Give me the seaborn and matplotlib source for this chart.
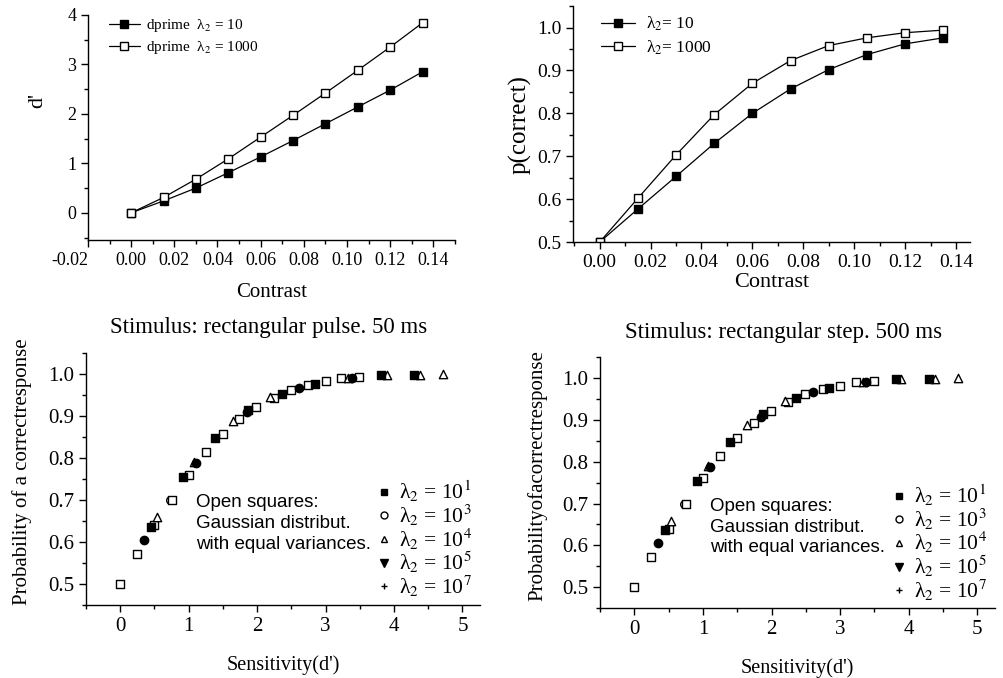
import numpy as np
import pandas as pd
import seaborn as sns
import matplotlib.pyplot as plt
from matplotlib.lines import Line2D
from matplotlib.ticker import MultipleLocator, FormatStrFormatter

sns.set_theme(style="ticks", rc={"axes.edgecolor": "black", "xtick.color": "black",
                                 "ytick.color": "black", "text.color": "black",
                                 "axes.labelcolor": "black"})
plt.rcParams["font.family"] = ["Liberation Serif", "DejaVu Serif"]
plt.rcParams["mathtext.fontset"] = "stix"
plt.rcParams["axes.unicode_minus"] = False

# top panels: contrast sweep
contrast = [0.0, 0.015, 0.03, 0.045, 0.06, 0.075, 0.09, 0.105, 0.12, 0.135]
dprime_10 = [0.0, 0.24, 0.50, 0.81, 1.13, 1.46, 1.80, 2.14, 2.48, 2.85]
dprime_1000 = [0.0, 0.31, 0.68, 1.09, 1.53, 1.97, 2.42, 2.88, 3.35, 3.84]
pc_10 = [0.5, 0.577, 0.653, 0.730, 0.800, 0.857, 0.902, 0.937, 0.962, 0.976]
pc_1000 = [0.5, 0.602, 0.703, 0.797, 0.870, 0.923, 0.958, 0.976, 0.988, 0.994]

# bottom panels: p(correct) vs d'
fsq_d = [0.45, 0.91, 1.39, 1.87, 2.36, 2.84, 3.81, 4.29]
fsq_p = [0.636, 0.755, 0.848, 0.915, 0.952, 0.976, 0.997, 0.997]
circ_d = [0.34, 1.10, 1.85, 2.61, 3.38]
circ_p = [0.605, 0.787, 0.908, 0.966, 0.990]
ocirc_d = [0.0, 0.72]
ocirc_p = [0.500, 0.700]
tri_d = [0.53, 1.08, 1.64, 2.19, 3.33, 3.89, 4.38, 4.71]
tri_p = [0.659, 0.790, 0.888, 0.944, 0.990, 0.998, 0.998, 0.999]
osq_d = [0.0, 0.25, 0.50, 0.75, 1.0, 1.25, 1.50, 1.74, 1.99, 2.24, 2.49, 2.75, 3.0, 3.23, 3.49]
osq_p = [0.500, 0.571, 0.640, 0.700, 0.760, 0.813, 0.856, 0.892, 0.922, 0.943,
         0.962, 0.974, 0.982, 0.990, 0.993]

lam_labels = ["λ$_{2}$ = 10$^{1}$", "λ$_{2}$ = 10$^{3}$", "λ$_{2}$ = 10$^{4}$",
              "λ$_{2}$ = 10$^{5}$", "λ$_{2}$ = 10$^{7}$"]
titles = ["Stimulus: rectangular pulse. 50 ms", "Stimulus: rectangular step. 500 ms"]
ylabels = ["Probability of a correctresponse", "Probabilityofacorrectresponse"]

fig = plt.figure(figsize=(10.04, 6.78), dpi=100)
ax1 = fig.add_axes([0.0876, 0.646, 0.3655, 0.332])
ax2 = fig.add_axes([0.5707, 0.643, 0.3954, 0.348])
ax3 = fig.add_axes([0.0857, 0.1077, 0.392, 0.372])
ax4 = fig.add_axes([0.5976, 0.1032, 0.393, 0.370])


def style_axis(ax, size):
    sns.despine(ax=ax)
    ax.tick_params(which="major", direction="out", length=5, width=1, labelsize=size)
    ax.tick_params(which="minor", direction="out", length=3, width=1)
    for s in ["left", "bottom"]:
        ax.spines[s].set_linewidth(1)


def draw_line(ax, x, y, filled, label):
    sns.lineplot(x=x, y=y, ax=ax, color="black", lw=0.9, marker="s", markersize=6,
                 markerfacecolor="black" if filled else "white",
                 markeredgecolor="black", markeredgewidth=1, label=label)


# top-left
draw_line(ax1, contrast, dprime_10, True, "dprime  λ$_{2}$ = 10")
draw_line(ax1, contrast, dprime_1000, False, "dprime  λ$_{2}$ = 1000")
ax1.set_xlim(-0.02, 0.15)
ax1.set_ylim(-0.55, 4)
ax1.xaxis.set_major_locator(MultipleLocator(0.02))
ax1.xaxis.set_minor_locator(MultipleLocator(0.01))
ax1.xaxis.set_major_formatter(FormatStrFormatter("%.2f"))
ax1.yaxis.set_major_locator(MultipleLocator(1))
ax1.yaxis.set_minor_locator(MultipleLocator(0.5))
style_axis(ax1, 13)
ax1.set_xlabel("Contrast", fontsize=15)
ax1.set_ylabel("d'", fontsize=16)
ax1.xaxis.set_label_coords(0.5, -0.19)
ax1.yaxis.set_label_coords(-0.11, 0.62)
ax1.legend(loc="upper left", bbox_to_anchor=(0.02, 1.05), frameon=False, fontsize=11,
           handlelength=2.0, handletextpad=0.4, labelspacing=0.3)

# top-right
draw_line(ax2, contrast, pc_10, True, "λ$_{2}$= 10")
draw_line(ax2, contrast, pc_1000, False, "λ$_{2}$= 1000")
ax2.set_xlim(-0.0105, 0.1455)
ax2.set_ylim(0.5, 1.05)
ax2.xaxis.set_major_locator(MultipleLocator(0.02))
ax2.xaxis.set_minor_locator(MultipleLocator(0.01))
ax2.xaxis.set_major_formatter(FormatStrFormatter("%.2f"))
ax2.yaxis.set_major_locator(MultipleLocator(0.1))
ax2.yaxis.set_minor_locator(MultipleLocator(0.05))
ax2.yaxis.set_major_formatter(FormatStrFormatter("%.1f"))
style_axis(ax2, 14)
ax2.set_xlabel("Contrast", fontsize=16)
ax2.set_ylabel("p(correct)", fontsize=18)
ax2.xaxis.set_label_coords(0.5, -0.13)
ax2.yaxis.set_label_coords(-0.105, 0.5)
ax2.legend(loc="upper left", bbox_to_anchor=(0.03, 1.03), frameon=False, fontsize=12.5,
           handlelength=2.0, handletextpad=0.6, labelspacing=0.3)

# bottom panels
leg_handles = [
    Line2D([], [], ls="none", marker="s", ms=5, mfc="black", mec="black"),
    Line2D([], [], ls="none", marker="o", ms=5, mfc="white", mec="black"),
    Line2D([], [], ls="none", marker="^", ms=5, mfc="white", mec="black"),
    Line2D([], [], ls="none", marker="v", ms=6, mfc="black", mec="black"),
    Line2D([], [], ls="none", marker="+", ms=5, mec="black"),
]

for ax, title, ylab, ylx in zip([ax3, ax4], titles, ylabels, [-0.137, -0.133]):
    sns.scatterplot(x=osq_d, y=osq_p, ax=ax, marker="s", s=30, color="white",
                    edgecolor="black", linewidth=1, zorder=3)
    sns.scatterplot(x=ocirc_d, y=ocirc_p, ax=ax, marker="o", s=30, color="white",
                    edgecolor="black", linewidth=1, zorder=2)
    sns.scatterplot(x=tri_d, y=tri_p, ax=ax, marker="^", s=36, color="white",
                    edgecolor="black", linewidth=1, zorder=3)
    sns.scatterplot(x=fsq_d, y=fsq_p, ax=ax, marker="s", s=30, color="black",
                    edgecolor="black", linewidth=1, zorder=4)
    sns.scatterplot(x=circ_d, y=circ_p, ax=ax, marker="o", s=36, color="black",
                    edgecolor="black", linewidth=1, zorder=4)
    ax.set_xlim(-0.5, 5.25)
    ax.set_ylim(0.45, 1.05)
    ax.xaxis.set_major_locator(MultipleLocator(1))
    ax.xaxis.set_minor_locator(MultipleLocator(0.5))
    ax.yaxis.set_major_locator(MultipleLocator(0.1))
    ax.yaxis.set_minor_locator(MultipleLocator(0.05))
    ax.yaxis.set_major_formatter(FormatStrFormatter("%.1f"))
    style_axis(ax, 15)
    ax.set_xlabel("Sensitivity(d')", fontsize=14.5)
    ax.set_ylabel(ylab, fontsize=15)
    ax.xaxis.set_label_coords(0.5, -0.2)
    ax.yaxis.set_label_coords(ylx, 0.53)
    ax.text(0.465, 1.1, title, transform=ax.transAxes, ha="center", va="center",
            fontsize=16.5)
    ax.text(0.28, 0.44, "Open squares:\nGaussian distribut.\nwith equal variances.",
            transform=ax.transAxes, ha="left", va="top", fontsize=13.5,
            family=["Liberation Sans", "DejaVu Sans"], linespacing=1.3)
    ax.legend(leg_handles, lam_labels, loc="upper left", bbox_to_anchor=(0.73, 0.50),
              frameon=False, fontsize=15.5, handlelength=1.0, handletextpad=0.2,
              labelspacing=-0.08, borderpad=0, borderaxespad=0)

# the -0.02 label sits left of its tick in the original
fig.canvas.draw()
for tick in ax1.xaxis.get_major_ticks():
    if abs(tick.get_loc() + 0.02) < 1e-6:
        tick.label1.set_horizontalalignment("right")

fig.savefig("out.png", dpi=100)
